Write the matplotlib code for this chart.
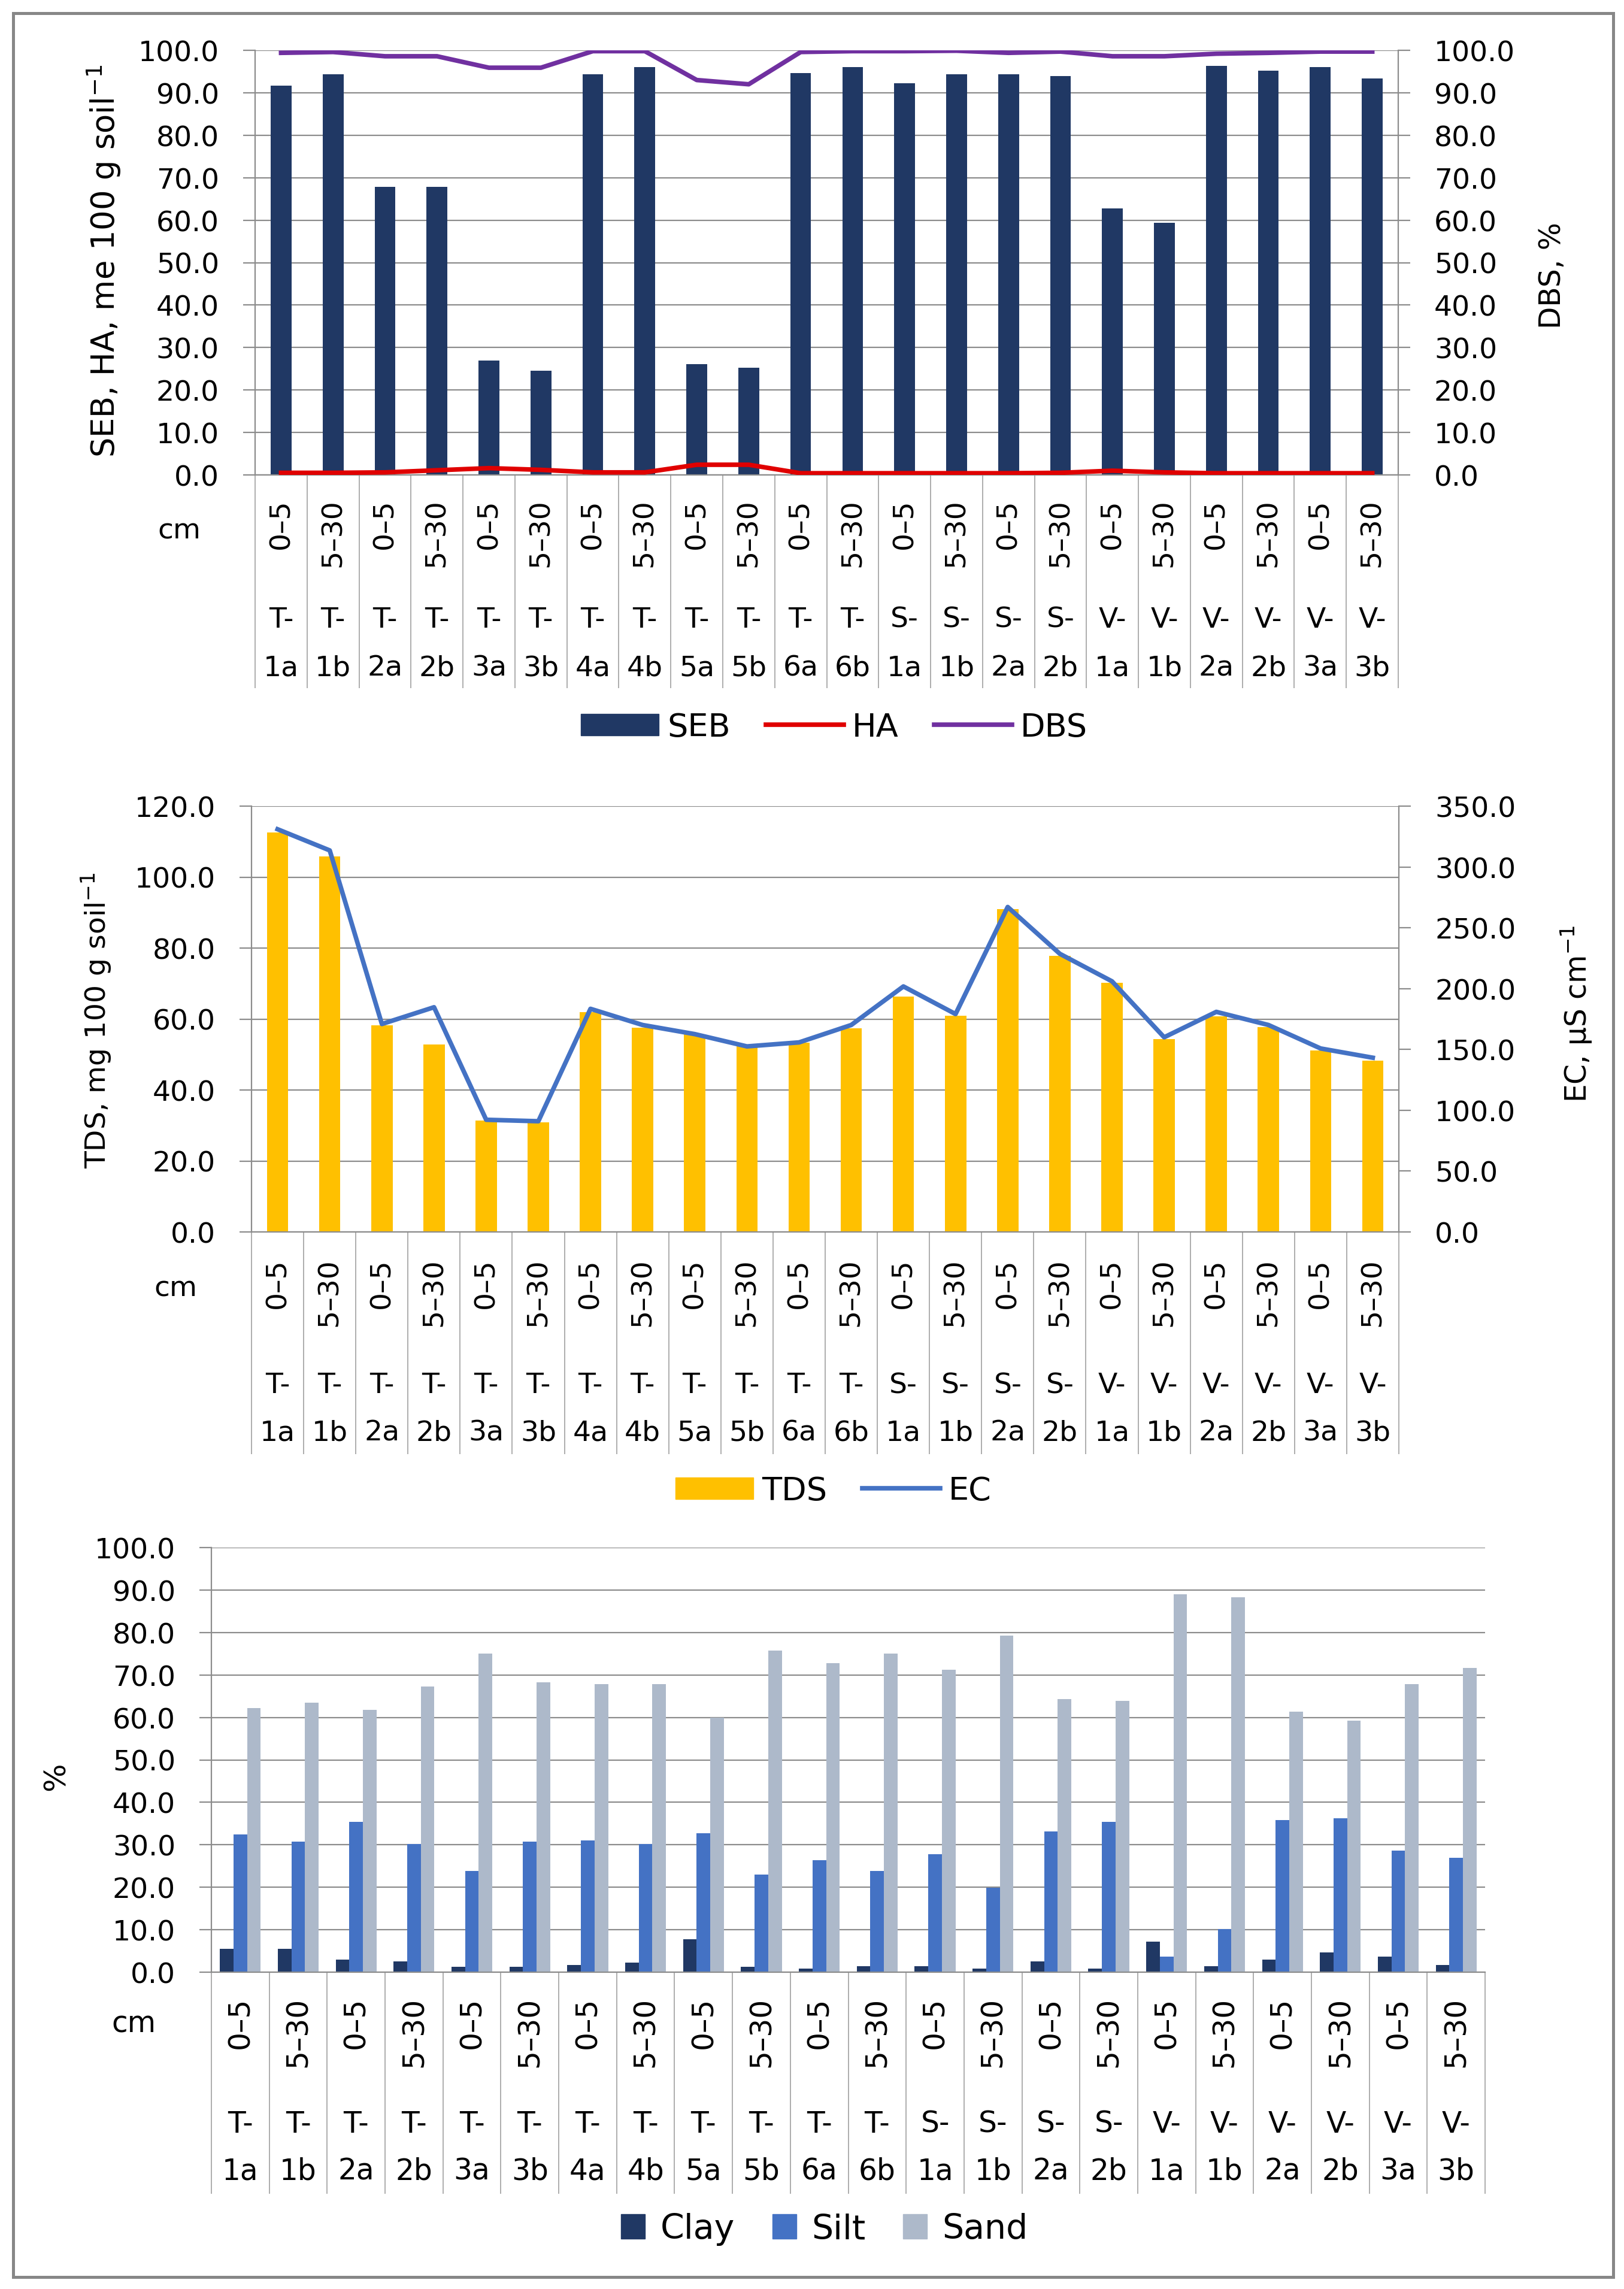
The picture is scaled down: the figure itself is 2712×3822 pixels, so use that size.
import numpy as np
import matplotlib.pyplot as plt
from matplotlib.patches import Rectangle, Patch
from matplotlib.lines import Line2D
from matplotlib.ticker import FormatStrFormatter

plt.rcParams['font.family'] = ['DejaVu Sans']

# categories
prefix = ['T-'] * 12 + ['S-'] * 4 + ['V-'] * 6
site = ['1a', '1b', '2a', '2b', '3a', '3b', '4a', '4b', '5a', '5b', '6a', '6b',
        '1a', '1b', '2a', '2b',
        '1a', '1b', '2a', '2b', '3a', '3b']
depth = ['0–5', '5–30'] * 11

# chart 1
seb = [91.7, 94.3, 67.9, 67.9, 27.0, 24.5, 94.3, 96.1, 26.1, 25.2, 94.7, 96.1,
       92.3, 94.3, 94.3, 93.9, 62.7, 59.4, 96.4, 95.2, 96.0, 93.4]
ha = [0.5, 0.5, 0.6, 1.1, 1.6, 1.2, 0.6, 0.6, 2.4, 2.4, 0.4, 0.4,
      0.4, 0.4, 0.4, 0.5, 1.0, 0.6, 0.4, 0.4, 0.4, 0.4]
dbs = [99.4, 99.6, 98.6, 98.6, 95.9, 95.9, 99.8, 99.8, 93.0, 92.0, 99.6, 99.8,
       99.8, 99.9, 99.4, 99.7, 98.6, 98.6, 99.2, 99.4, 99.7, 99.7]

# chart 2
tds = [112.6, 105.9, 58.3, 52.8, 31.4, 30.9, 62.0, 57.5, 55.7, 52.3, 53.4, 57.4,
       66.3, 61.0, 90.9, 77.8, 70.2, 54.4, 60.7, 57.7, 51.2, 48.2]
ec = [331.0, 313.6, 170.9, 184.7, 92.2, 91.0, 183.4, 170.1, 162.6, 152.5, 155.8, 170.1,
      201.8, 179.1, 267.1, 228.6, 206.0, 160.0, 180.9, 170.1, 150.8, 143.2]

# chart 3
clay = [5.5, 5.5, 3.0, 2.5, 1.2, 1.2, 1.7, 2.2, 7.7, 1.2, 0.9, 1.4,
        1.4, 0.9, 2.5, 0.9, 7.2, 1.4, 3.0, 4.7, 3.7, 1.7]
silt = [32.4, 30.7, 35.4, 30.2, 23.9, 30.7, 31.1, 30.2, 32.7, 23.0, 26.4, 23.9,
        27.8, 19.9, 33.2, 35.4, 3.7, 10.2, 35.8, 36.3, 28.6, 26.9]
sand = [62.2, 63.5, 61.8, 67.3, 75.0, 68.2, 67.8, 67.8, 60.0, 75.8, 72.8, 75.0,
        71.2, 79.3, 64.3, 63.9, 89.0, 88.3, 61.3, 59.3, 67.8, 71.6]

W, H = 2712, 3823
PT = 0.72  # points per pixel at dpi 100
GRID = '#8c8c8c'
LW = 5.5
n = len(site)
x = np.arange(n)

fig = plt.figure(figsize=(W / 100, H / 100), dpi=100)


def axes_px(l, r, t, b):
    return fig.add_axes([l / W, 1 - b / H, (r - l) / W, (b - t) / H])


def style_y(ax):
    ax.tick_params(axis='y', length=20 * PT, width=1.6, color=GRID, pad=40 * PT,
                   labelsize=34)
    ax.yaxis.set_major_formatter(FormatStrFormatter('%.1f'))
    for s in ax.spines.values():
        s.set_color(GRID)
        s.set_linewidth(1.6)
    ax.spines['top'].set_visible(False)


def cat_axis(ax, depth_top, pre_y, site_y, div_len, cm_xy, fs=34):
    ax.set_xlim(-0.5, n - 0.5)
    ax.set_xticks(x)
    ax.set_xticklabels([])
    ax.tick_params(axis='x', which='major', length=0)
    ax.set_xticks(np.arange(n + 1) - 0.5, minor=True)
    ax.tick_params(axis='x', which='minor', length=div_len * PT, width=1.2,
                   color='#a0a0a0', direction='out')
    tr = ax.get_xaxis_transform()
    for i in range(n):
        ax.annotate(depth[i], xy=(i, 0), xycoords=tr, xytext=(0, -depth_top * PT),
                    textcoords='offset points', rotation=90, ha='center', va='top',
                    fontsize=fs)
        ax.annotate(prefix[i], xy=(i, 0), xycoords=tr, xytext=(0, -pre_y * PT),
                    textcoords='offset points', ha='center', va='center', fontsize=fs)
        ax.annotate(site[i], xy=(i, 0), xycoords=tr, xytext=(0, -site_y * PT),
                    textcoords='offset points', ha='center', va='center', fontsize=fs)
    fig.text(cm_xy[0] / W, 1 - cm_xy[1] / H, 'cm', ha='center', va='center', fontsize=fs)


# ---------- chart 1 ----------
ax1 = axes_px(426, 2335, 85, 794)
ax1.bar(x, seb, width=0.40, color='#203864', zorder=2)
ax1.plot(x, ha, color='#E00000', lw=LW, zorder=3)
ax1.set_ylim(0, 100)
ax1.set_yticks(np.arange(0, 101, 10))
ax1.yaxis.grid(True, color=GRID, lw=1.6)
ax1.set_axisbelow(True)
style_y(ax1)
ax1.spines['right'].set_visible(False)
cat_axis(ax1, 39, 241, 322, 356, (299, 887))

ax1b = ax1.twinx()
ax1b.plot(x, dbs, color='#7030A0', lw=LW)
ax1b.set_ylim(0, 100)
ax1b.set_yticks(np.arange(0, 101, 10))
style_y(ax1b)
ax1b.spines['left'].set_visible(False)
ax1b.spines['bottom'].set_visible(False)

fig.text(174 / W, 1 - 436 / H, r'SEB, HA, me 100 g soil$^{-1}$', rotation=90,
         ha='center', va='center', fontsize=38)
fig.text(2592 / W, 1 - 460 / H, 'DBS, %', rotation=90, ha='center', va='center',
         fontsize=35)

h1 = [Patch(color='#203864'), Line2D([], [], color='#E00000', lw=LW),
      Line2D([], [], color='#7030A0', lw=LW)]
fig.legend(h1, ['SEB', 'HA', 'DBS'], loc='center', ncol=3, frameon=False,
           bbox_to_anchor=(1393 / W, 1 - 1215 / H), fontsize=39, handlelength=2.4,
           handleheight=0.65, handletextpad=0.25, columnspacing=1.1)

# ---------- chart 2 ----------
ax2 = axes_px(420, 2336, 1347, 2058)
ax2.bar(x, tds, width=0.41, color='#FFC000', zorder=2)
ax2.set_ylim(0, 120)
ax2.set_yticks(np.arange(0, 121, 20))
ax2.yaxis.grid(True, color=GRID, lw=1.6)
ax2.set_axisbelow(True)
style_y(ax2)
ax2.spines['right'].set_visible(False)
cat_axis(ax2, 43, 256, 335, 371, (293, 2152))

ax2b = ax2.twinx()
ax2b.plot(x, ec, color='#4472C4', lw=LW)
ax2b.set_ylim(0, 350)
ax2b.set_yticks(np.arange(0, 351, 50))
style_y(ax2b)
ax2b.spines['left'].set_visible(False)
ax2b.spines['bottom'].set_visible(False)

fig.text(161 / W, 1 - 1704 / H, r'TDS, mg 100 g soil$^{-1}$', rotation=90,
         ha='center', va='center', fontsize=34)
fig.text(2633 / W, 1 - 1693 / H, r'EC, μS cm$^{-1}$', rotation=90, ha='center',
         va='center', fontsize=35)

h2 = [Patch(color='#FFC000'), Line2D([], [], color='#4472C4', lw=LW)]
fig.legend(h2, ['TDS', 'EC'], loc='center', ncol=2, frameon=False,
           bbox_to_anchor=(1392 / W, 1 - 2490 / H), fontsize=39, handlelength=2.4,
           handleheight=0.65, handletextpad=0.25, columnspacing=1.1)

# ---------- chart 3 ----------
ax3 = axes_px(353, 2480, 2585, 3294)
bw = 0.235
ax3.bar(x - bw, clay, width=bw, color='#203864', zorder=2)
ax3.bar(x, silt, width=bw, color='#4472C4', zorder=2)
ax3.bar(x + bw, sand, width=bw, color='#ADB9CA', zorder=2)
ax3.set_ylim(0, 100)
ax3.set_yticks(np.arange(0, 101, 10))
ax3.yaxis.grid(True, color=GRID, lw=1.6)
ax3.set_axisbelow(True)
style_y(ax3)
ax3.spines['right'].set_visible(False)
cat_axis(ax3, 41, 253, 332, 370, (223, 3380), fs=35)

fig.text(94 / W, 1 - 2966 / H, '%', rotation=90, ha='center', va='center', fontsize=36)

h3 = [Patch(color='#203864'), Patch(color='#4472C4'), Patch(color='#ADB9CA')]
fig.legend(h3, ['Clay', 'Silt', 'Sand'], loc='center', ncol=3, frameon=False,
           bbox_to_anchor=(1377 / W, 1 - 3723 / H), fontsize=41, handlelength=0.7,
           handleheight=0.75, handletextpad=0.45, columnspacing=1.1)

# outer frame
fig.add_artist(Rectangle((22 / W, 1 - 3803 / H), (2694 - 22) / W, (3803 - 23) / H,
                         transform=fig.transFigure, fill=False, ec='#878787', lw=3.6))

fig.savefig('out.png', dpi=100)
